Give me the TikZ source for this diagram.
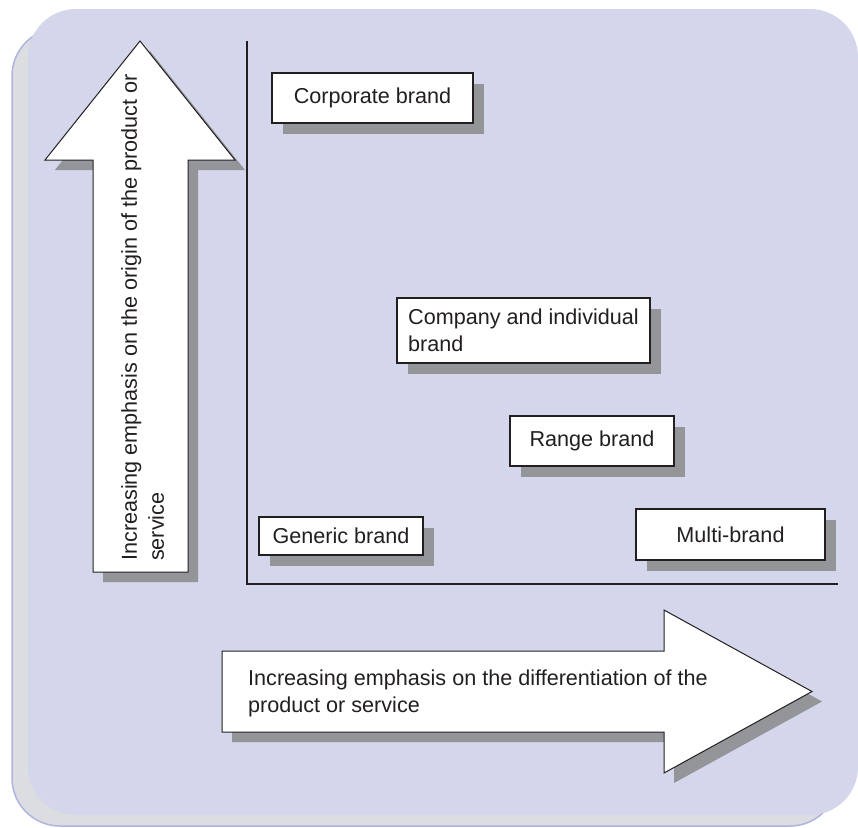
\documentclass[tikz,border=0pt]{standalone}
\usepackage{fontspec}
\setmainfont{Liberation Sans}
\usetikzlibrary{shadows}

\definecolor{panelfill}{HTML}{D4D6EB}
\definecolor{backfill}{HTML}{DCDDE1}
\definecolor{backline}{HTML}{AEB4DF}
\definecolor{shadowgray}{HTML}{939598}
\definecolor{inkdark}{HTML}{231F20}

\begin{document}
\begin{tikzpicture}[x=1pt,y=-1pt,
    font=\fontsize{21.6}{27}\selectfont,
    every node/.style={text=inkdark},
    brandbox/.style={draw=inkdark,line width=1.3pt,fill=white,inner sep=0pt,
      minimum height=50pt,
      drop shadow={shadow xshift=11pt,shadow yshift=-11pt,fill=shadowgray,opacity=1}},
    bigarrow/.style={draw=inkdark,line width=1pt,fill=white,line join=miter,
      drop shadow={shadow xshift=10pt,shadow yshift=-10pt,fill=shadowgray,opacity=1}},
    axisline/.style={draw=inkdark,line width=2.2pt}]
  \useasboundingbox (0,0) rectangle (858,827);

  % panels
  \draw[fill=backfill,draw=backline,line width=1.5pt,rounded corners=48pt]
    (12,28) rectangle (838,826);
  \fill[panelfill,rounded corners=48pt] (28,9) rectangle (858,815);

  % axes
  \coordinate (top) at (247,41);
  \coordinate (origin) at (247,584);
  \coordinate (right) at (838,584);
  \draw[axisline] (top) -- (origin) -- (right);

  % vertical arrow
  \draw[bigarrow] (140,41) -- (235,160) -- (188,160) -- (188,572)
    -- (93,572) -- (93,160) -- (45,160) -- cycle;
  \node[rotate=90,anchor=north west,inner sep=0pt,align=left] (origintext)
    at (121,561) {Increasing emphasis on the origin of the product or\\service};

  % horizontal arrow
  \draw[bigarrow] (222,651) -- (664,651) -- (664,610) -- (812,691.5)
    -- (664,773) -- (664,732) -- (222,732) -- cycle;
  \node[anchor=north west,inner sep=0pt,align=left] (difftext)
    at (248,670) {Increasing emphasis on the differentiation of the\\product or service};

  % brands
  \node[brandbox,minimum width=201pt] (corporate) at (372.5,98) {Corporate brand};
  \node[brandbox,minimum width=253pt,minimum height=65pt,align=left] (company)
    at (523.5,330.5) {Company and individual\\brand};
  \node[brandbox,minimum width=164pt] (range) at (592,441) {Range brand};
  \node[brandbox,minimum width=164pt,minimum height=38pt] (generic) at (341,536) {Generic brand};
  \node[brandbox,minimum width=189pt,minimum height=51pt] (multi) at (730.5,534.5) {Multi-brand};
\end{tikzpicture}
\end{document}
